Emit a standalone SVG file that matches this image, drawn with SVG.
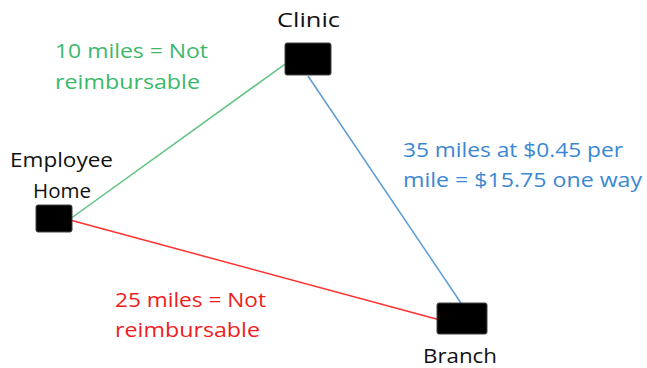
<svg xmlns="http://www.w3.org/2000/svg" width="647" height="368" viewBox="0 0 647 368">
<style>
text{font-family:"Open Sans","Liberation Sans",sans-serif;font-size:19.5px}
.n{fill:#111}
.g{fill:#3cb86a}
.b{fill:#3a87d4}
.r{fill:#f01c1c}
.box{fill:#000;stroke:#444;stroke-width:1}
</style>
<rect width="647" height="368" fill="#fff"/>
<g id="connectors" fill="none" stroke-width="1.5">
<line x1="70" y1="219" x2="288" y2="62" stroke="#5cc47f"/>
<line x1="308" y1="76" x2="463" y2="306" stroke="#5b9bd5"/>
<line x1="70" y1="220" x2="440" y2="320" stroke="#ff3030"/>
</g>
<g id="clinic">
<rect class="box" x="285" y="43" width="46" height="32" rx="2"/>
<text class="n" x="277" y="27" textLength="63" lengthAdjust="spacingAndGlyphs">Clinic</text>
</g>
<g id="home">
<rect class="box" x="36" y="205" width="36" height="27" rx="2"/>
<text class="n" x="10" y="167" textLength="103" lengthAdjust="spacingAndGlyphs">Employee</text>
<text class="n" x="33" y="198" textLength="58" lengthAdjust="spacingAndGlyphs">Home</text>
</g>
<g id="branch">
<rect class="box" x="437" y="303" width="50" height="31" rx="2"/>
<text class="n" x="423" y="363" textLength="74" lengthAdjust="spacingAndGlyphs">Branch</text>
</g>
<g id="label-green">
<text class="g" x="55" y="58" textLength="153" lengthAdjust="spacingAndGlyphs">10 miles = Not</text>
<text class="g" x="55" y="89" textLength="145" lengthAdjust="spacingAndGlyphs">reimbursable</text>
</g>
<g id="label-blue">
<text class="b" x="403" y="157" textLength="220" lengthAdjust="spacingAndGlyphs">35 miles at $0.45 per</text>
<text class="b" x="403" y="187" textLength="239" lengthAdjust="spacingAndGlyphs">mile = $15.75 one way</text>
</g>
<g id="label-red">
<text class="r" x="115" y="307" textLength="151" lengthAdjust="spacingAndGlyphs">25 miles = Not</text>
<text class="r" x="115" y="337" textLength="145" lengthAdjust="spacingAndGlyphs">reimbursable</text>
</g>
</svg>
